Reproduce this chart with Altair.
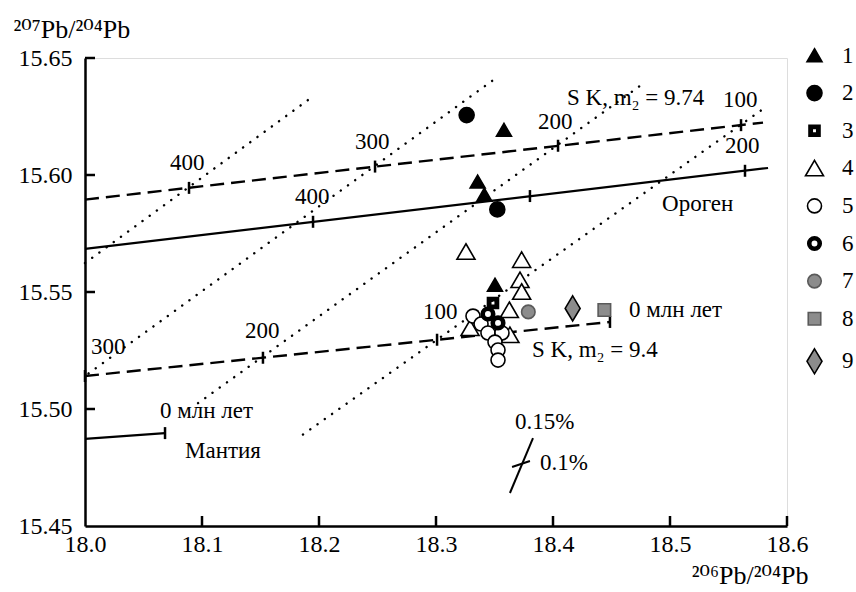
import altair as alt
import pandas as pd

FONT = "'Liberation Serif', 'Times New Roman', Tinos, 'Nimbus Roman', 'DejaVu Serif', serif"

# ---------------- sample points (206Pb/204Pb, 207Pb/204Pb) by group ----------------
g1_x = [18.3581, 18.3356, 18.3413, 18.3504]
g1_y = [15.6192, 15.5971, 15.5915, 15.5530]
g2_x = [18.3262, 18.3524]
g2_y = [15.6256, 15.5853]
g3_x = [18.3487]
g3_y = [15.5453]
g4_x = [18.3256, 18.3732, 18.3718, 18.3732, 18.3627, 18.3291, 18.3632]
g4_y = [15.5672, 15.5637, 15.5551, 15.5501, 15.5423, 15.5346, 15.5316]
g5_x = [18.3316, 18.3385, 18.3444, 18.3564, 18.3504, 18.3530, 18.3530]
g5_y = [15.5397, 15.5363, 15.5325, 15.5325, 15.5286, 15.5252, 15.5209]
g6_x = [18.3444, 18.3530]
g6_y = [15.5406, 15.5368]
g7_x = [18.3789]
g7_y = [15.5415]
g8_x = [18.4439]
g8_y = [15.5423]
g9_x = [18.4168]
g9_y = [15.5430]

group_labels = ["1", "2", "3", "4", "5", "6", "7", "8", "9"]

# ---------------- growth curves ----------------
sk974_x = [18.000, 18.5795]
sk974_y = [15.5895, 15.6224]
orogen_x = [18.000, 18.5838]
orogen_y = [15.5684, 15.6030]
sk94_x = [18.000, 18.4487]
sk94_y = [15.5141, 15.5372]
mantle_x = [18.000, 18.0684]
mantle_y = [15.4872, 15.4897]

# age marks on curves (Ma)
sk974_tick_x = [18.0889, 18.2479, 18.4043, 18.5607]
sk974_tick_y = [15.5945, 15.6036, 15.6125, 15.6213]
orogen_tick_x = [18.1949, 18.3803, 18.5641]
orogen_tick_y = [15.5800, 15.5910, 15.6018]
sk94_tick_x = [18.0000, 18.1521, 18.3009, 18.4487]
sk94_tick_y = [15.5141, 15.5219, 15.5296, 15.5372]
mantle_tick_x = [18.0684]
mantle_tick_y = [15.4897]

# isochrons (dotted)
iso_names = ["A", "A", "B", "B", "C", "C", "D", "D"]
iso_x = [18.0000, 18.1940, 18.0030, 18.3487, 18.0966, 18.4769, 18.1863, 18.5795]
iso_y = [15.5624, 15.6333, 15.5152, 15.6405, 15.5025, 15.6390, 15.4891, 15.6282]

# error cross
err_x = [18.3632, 18.3650]
err_y = [15.4641, 15.4752]
err_x2 = [18.3829, 18.3803]
err_y2 = [15.4876, 15.4778]

# annotations (left edge x, middle y)
note_text = ["400", "300", "200", "100", "S K, m₂ = 9.74",
             "400", "200", "Ороген",
             "300", "200", "100", "0 млн лет", "S K, m₂ = 9.4",
             "0 млн лет", "Мантия", "0.15%", "0.1%"]
note_x = [18.0726, 18.2308, 18.3872, 18.5453, 18.4120,
          18.1795, 18.5470, 18.4932,
          18.0051, 18.1368, 18.2889, 18.4650, 18.3821,
          18.0641, 18.0855, 18.3675, 18.3889]
note_y = [15.6051, 15.6141, 15.6226, 15.6321, 15.6329,
          15.5906, 15.6124, 15.5876,
          15.5265, 15.5333, 15.5415, 15.5423, 15.5252,
          15.4991, 15.4821, 15.4944, 15.4769]

x_ticks = [18.0, 18.1, 18.2, 18.3, 18.4, 18.5, 18.6]
y_ticks = [15.45, 15.50, 15.55, 15.60, 15.65]

# ---------------- build tables ----------------
order = [("4", g4_x, g4_y), ("1", g1_x, g1_y), ("3", g3_x, g3_y), ("5", g5_x, g5_y),
         ("6", g6_x, g6_y), ("2", g2_x, g2_y), ("7", g7_x, g7_y), ("8", g8_x, g8_y),
         ("9", g9_x, g9_y)]
rows = []
for lab, xs, ys in order:
    for a, b in zip(xs, ys):
        rows.append({"g": lab, "x": a, "y": b})
pts = pd.DataFrame(rows)

def line_df(xs, ys):
    return pd.DataFrame({"x": xs, "y": ys})

xscale = alt.Scale(domain=[18.0, 18.6], nice=False, zero=False)
yscale = alt.Scale(domain=[15.45, 15.65], nice=False, zero=False)

X = alt.X("x:Q", scale=xscale, axis=alt.Axis(
    values=x_ticks, format=".1f", grid=False, ticks=False, tickSize=0,
    labelFont=FONT, labelFontSize=24, labelColor="black", labelPadding=6,
    labelFlush=False, labelOverlap=False, labelBound=False,
    domainColor="black", domainWidth=2.5,
    title="²⁰⁶Pb/²⁰⁴Pb", titleFont=FONT, titleFontSize=26, titleFontWeight="normal",
    titleColor="black", titleAngle=0, titleAlign="right", titleBaseline="alphabetic",
    titleX=723, titleY=57))
Y = alt.Y("y:Q", scale=yscale, axis=alt.Axis(
    values=y_ticks, format=".2f", grid=False, ticks=False, tickSize=0,
    labelFont=FONT, labelFontSize=24, labelColor="black", labelPadding=13,
    labelOverlap=False, labelBound=False, labelFlush=False,
    domainColor="black", domainWidth=2.5,
    title="²⁰⁷Pb/²⁰⁴Pb", titleFont=FONT, titleFontSize=26, titleFontWeight="normal",
    titleColor="black", titleAngle=0, titleAlign="left", titleBaseline="alphabetic",
    titleX=-72, titleY=-21))

Xn = alt.X("x:Q", scale=xscale)
Yn = alt.Y("y:Q", scale=yscale)

dotted = alt.Chart(pd.DataFrame({"n": iso_names, "x": iso_x, "y": iso_y})).mark_line(
    color="black", strokeWidth=2.4, strokeDash=[0.1, 8.8], strokeCap="round"
).encode(x=X, y=Y, detail="n:N")

dash_layers = [
    alt.Chart(line_df(sk974_x, sk974_y)).mark_line(color="black", strokeWidth=2.4, strokeDash=[14, 7]).encode(x=Xn, y=Yn),
    alt.Chart(line_df(sk94_x, sk94_y)).mark_line(color="black", strokeWidth=2.4, strokeDash=[14, 7]).encode(x=Xn, y=Yn),
]
solid_layers = [
    alt.Chart(line_df(orogen_x, orogen_y)).mark_line(color="black", strokeWidth=2.2).encode(x=Xn, y=Yn),
    alt.Chart(line_df(mantle_x, mantle_y)).mark_line(color="black", strokeWidth=2.2).encode(x=Xn, y=Yn),
]

tick_df = pd.DataFrame({
    "x": sk974_tick_x + orogen_tick_x + sk94_tick_x + mantle_tick_x,
    "y": sk974_tick_y + orogen_tick_y + sk94_tick_y + mantle_tick_y,
})
age_ticks = alt.Chart(tick_df).mark_tick(
    orient="vertical", color="black", size=12, thickness=2.5, opacity=1
).encode(x=Xn, y=Yn)

err = alt.Chart(pd.DataFrame({"x": err_x, "y": err_y, "x2": err_x2, "y2": err_y2})).mark_rule(
    color="black", strokeWidth=2
).encode(x=Xn, y=Yn, x2="x2:Q", y2="y2:Q")

notes = alt.Chart(pd.DataFrame({"t": note_text, "x": note_x, "y": note_y})).mark_text(
    font=FONT, fontSize=23, color="black", align="left", baseline="middle"
).encode(x=Xn, y=Yn, text="t:N")

legend = alt.Legend(
    title=None, orient="none", legendX=718, legendY=-14, padding=0,
    labelFont=FONT, labelFontSize=23, labelColor="black", labelOffset=16,
    rowPadding=13.6, symbolOpacity=1, symbolSize=100, symbolStrokeWidth=1.6,
    values=group_labels,
)

# symbol outlines (unit = sqrt(size)/2 = 5 px at size 100)
TRI_F = "M0,-1.35L1.5,1.25L-1.5,1.25Z"
CIRC_F = "M-1.5,0A1.5,1.5 0 1,0 1.5,0A1.5,1.5 0 1,0 -1.5,0Z"
SQ_RING = "M-1.1,-1.1L1.1,-1.1L1.1,1.1L-1.1,1.1Z M-0.45,-0.45L-0.45,0.45L0.45,0.45L0.45,-0.45Z"
TRI_O = "M0,-1.6L1.8,1.5L-1.8,1.5Z"
CIRC_O = "M-1.4,0A1.4,1.4 0 1,0 1.4,0A1.4,1.4 0 1,0 -1.4,0Z"
RING = "M-1.35,0A1.35,1.35 0 1,0 1.35,0A1.35,1.35 0 1,0 -1.35,0Z M-0.75,0A0.75,0.75 0 1,1 0.75,0A0.75,0.75 0 1,1 -0.75,0Z"
CIRC_G = "M-1.35,0A1.35,1.35 0 1,0 1.35,0A1.35,1.35 0 1,0 -1.35,0Z"
SQ_G = "M-1.25,-1.25L1.25,-1.25L1.25,1.25L-1.25,1.25Z"
DIAM = "M0,-2.5L1.5,0L0,2.5L-1.5,0Z"

shape_range = [TRI_F, CIRC_F, SQ_RING, TRI_O, CIRC_O, RING, CIRC_G, SQ_G, DIAM]
fill_range = ["black", "black", "black", "white", "white", "black",
              "#8c8c8c", "#8c8c8c", "#8c8c8c"]
stroke_range = ["black", "black", "black", "black", "black", "black",
                "#5a5a5a", "#5a5a5a", "black"]

points = alt.Chart(pts).mark_point(filled=True, opacity=1, size=100, strokeWidth=1.6).encode(
    x=Xn, y=Yn,
    shape=alt.Shape("g:N", scale=alt.Scale(domain=group_labels, range=shape_range), legend=legend),
    fill=alt.Fill("g:N", scale=alt.Scale(domain=group_labels, range=fill_range), legend=legend),
    stroke=alt.Stroke("g:N", scale=alt.Scale(domain=group_labels, range=stroke_range), legend=legend),
)

xt = alt.Chart(pd.DataFrame({"x": x_ticks[1:]})).mark_rule(color="black", strokeWidth=2.5).encode(
    x=Xn, y=alt.value(468), y2=alt.value(458))
yt = alt.Chart(pd.DataFrame({"y": y_ticks[1:]})).mark_rule(color="black", strokeWidth=2.5).encode(
    y=Yn, x=alt.value(0), x2=alt.value(10))

chart = alt.layer(
    dotted, *dash_layers, *solid_layers, age_ticks, err, notes, points, xt, yt
).properties(
    width=702, height=468,
    autosize=alt.AutoSizeParams(type="none"),
    padding={"left": 85, "top": 58, "right": 69, "bottom": 66},
).configure_view(stroke=None).configure(background="white")

chart.save("out.html", embed_options={"renderer": "svg", "actions": False})
